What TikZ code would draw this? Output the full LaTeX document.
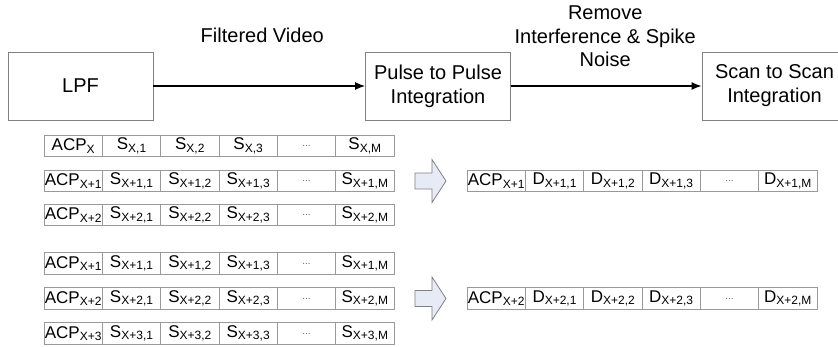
\documentclass[tikz,border=0pt]{standalone}
\usepackage{fontspec}
\setmainfont{Liberation Sans}
\usetikzlibrary{arrows.meta,positioning,calc}

\definecolor{edgegray}{RGB}{128,128,128}
\definecolor{arrowblue}{RGB}{230,235,245}

\newcommand{\sub}[1]{{\fontsize{12}{12}\selectfont\raisebox{-2.5pt}{#1}}}
\newcommand{\gap}{{\fontsize{10}{10}\selectfont\color{black!60}...}}

% one frame row: name, position, ACP index, letter, sample index
\newcommand{\cellrow}[5]{%
  \node[cell, anchor=west] (#1-1) at (#2) {ACP\sub{#3}};
  \node[cell, right=0pt of #1-1] (#1-2) {#4\sub{#5,1}};
  \node[cell, right=0pt of #1-2] (#1-3) {#4\sub{#5,2}};
  \node[cell, right=0pt of #1-3] (#1-4) {#4\sub{#5,3}};
  \node[cell, right=0pt of #1-4] (#1-5) {\gap};
  \node[cell, right=0pt of #1-5] (#1-6) {#4\sub{#5,M}};
}

\begin{document}
\begin{tikzpicture}[
    x=1pt, y=-1pt,
    >={Latex[length=10pt,width=8pt]},
    block/.style={draw=edgegray, line width=0.8pt, minimum width=145pt, minimum height=68pt,
      align=center, font=\fontsize{20}{24}\selectfont},
    cell/.style={draw=edgegray!80, line width=0.8pt, minimum width=58.33pt, minimum height=21.5pt,
      inner sep=0pt, outer sep=0pt, font=\fontsize{17}{17}\selectfont},
    flow/.style={->, line width=1.4pt},
    lbl/.style={align=center, font=\fontsize{20}{23.5}\selectfont, inner sep=0pt},
    blockarrow/.pic={
      \draw[draw=edgegray, fill=arrowblue, line width=0.8pt]
        (-15.5,-8) -- (1.5,-8) -- (1.5,-21.5) -- (15.5,0) -- (1.5,21.5) -- (1.5,8) -- (-15.5,8) -- cycle;
    }
]
\useasboundingbox (0,0) rectangle (838,347);

% --- processing chain ---
\node[block] (lpf) at (80.5,86) {LPF};
\node[block] (pulse) at (438,86) {Pulse to Pulse\\Integration};
\node[block] (scan) at (774.5,86) {Scan to Scan\\Integration};

\draw[flow] (lpf) -- node[lbl, anchor=base, yshift=43pt, xshift=3pt] {Filtered Video} (pulse);
\draw[flow] (pulse) -- node[lbl, yshift=49.5pt, xshift=-1pt] {Remove\\Interference \& Spike\\Noise} (scan);

% --- first window ---
\cellrow{a1}{44,146}{X}{S}{X}
\cellrow{a2}{44,181}{X+1}{S}{X+1}
\cellrow{a3}{44,215}{X+2}{S}{X+2}

\cellrow{d1}{467,181}{X+1}{D}{X+1}
\pic at ($(a2-6.east)!0.5!(d1-1.west)$) {blockarrow};

% --- second window ---
\cellrow{b1}{44,263.5}{X+1}{S}{X+1}
\cellrow{b2}{44,298.5}{X+2}{S}{X+2}
\cellrow{b3}{44,333.5}{X+3}{S}{X+3}

\cellrow{d2}{467,298.5}{X+2}{D}{X+2}
\pic at ($(b2-6.east)!0.5!(d2-1.west)$) {blockarrow};

\end{tikzpicture}
\end{document}
